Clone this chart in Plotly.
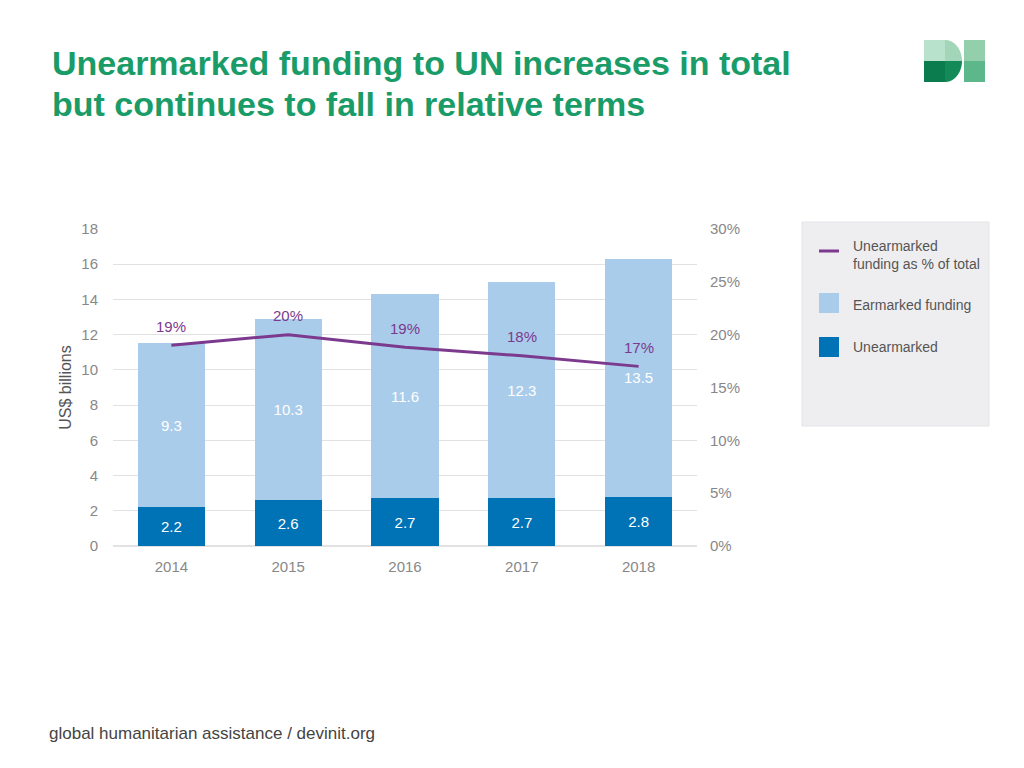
import math
import plotly.graph_objects as go

years = ["2014", "2015", "2016", "2017", "2018"]
unearmarked = [2.2, 2.6, 2.7, 2.7, 2.8]
earmarked = [9.3, 10.3, 11.6, 12.3, 13.5]
share_pct = [19.0, 20.0, 18.8, 18.0, 17.0]
share_labels = ["19%", "20%", "19%", "18%", "17%"]
left_ticks = [0, 2, 4, 6, 8, 10, 12, 14, 16, 18]
right_ticks = [0, 5, 10, 15, 20, 25, 30]

OFF = 8  # page body margin
W, H = 1024 - OFF, 768 - OFF
L, R, T, B = 113, 697, 229, 546  # plot area in screen pixels

def px(x):
    return (x - L) / (R - L)

def py(y):
    return (B - y) / (B - T)

LIGHT = "#A9CCEA"
DARK = "#0073B6"
PURPLE = "#7B3A8E"
GREEN = "#1A9C68"
FONT = "Liberation Sans, Arial, sans-serif"

fig = go.Figure()
fig.add_trace(go.Bar(
    x=years, y=unearmarked, marker_color=DARK, marker_line_width=0,
    text=[f"{v:.1f}" for v in unearmarked], textposition="inside",
    insidetextanchor="middle", textangle=0,
    textfont=dict(color="white", size=15, family=FONT), name="Unearmarked"))
fig.add_trace(go.Bar(
    x=years, y=earmarked, marker_color=LIGHT, marker_line_width=0,
    text=[f"{v:.1f}" for v in earmarked], textposition="inside",
    insidetextanchor="middle", textangle=0,
    textfont=dict(color="white", size=15, family=FONT), name="Earmarked funding"))
fig.add_trace(go.Scatter(
    x=years, y=share_pct, yaxis="y2", mode="lines",
    line=dict(color=PURPLE, width=3), name="Unearmarked funding as % of total"))

annotations = []
for i, (v, lab) in enumerate(zip(share_pct, share_labels)):
    annotations.append(dict(x=i, y=v, yref="y2", xref="x", text=lab,
                            showarrow=False, yshift=19,
                            font=dict(color=PURPLE, size=15, family=FONT)))

annotations.append(dict(x=px(50), y=py(63), xref="paper", yref="paper",
                        xanchor="left", yanchor="middle", showarrow=False,
                        text="<b>Unearmarked funding to UN increases in total</b>",
                        font=dict(color=GREEN, size=34, family=FONT)))
annotations.append(dict(x=px(50), y=py(104), xref="paper", yref="paper",
                        xanchor="left", yanchor="middle", showarrow=False,
                        text="<b>but continues to fall in relative terms</b>",
                        font=dict(color=GREEN, size=34, family=FONT)))
annotations.append(dict(x=px(47), y=py(733), xref="paper", yref="paper",
                        xanchor="left", yanchor="middle", showarrow=False,
                        text="global humanitarian assistance / devinit.org",
                        font=dict(color="#444444", size=17, family=FONT)))

leg_font = dict(color="#555555", size=14, family=FONT)
annotations.append(dict(x=px(851), y=py(255), xref="paper", yref="paper",
                        xanchor="left", yanchor="middle", showarrow=False, align="left",
                        text="Unearmarked<br>funding as % of total", font=leg_font))
annotations.append(dict(x=px(851), y=py(305), xref="paper", yref="paper",
                        xanchor="left", yanchor="middle", showarrow=False,
                        text="Earmarked funding", font=leg_font))
annotations.append(dict(x=px(851), y=py(347), xref="paper", yref="paper",
                        xanchor="left", yanchor="middle", showarrow=False,
                        text="Unearmarked", font=leg_font))

shapes = []
shapes.append(dict(type="rect", xref="paper", yref="paper", layer="below",
                   x0=px(802), x1=px(989), y0=py(222), y1=py(426),
                   fillcolor="#EEEEF0", line=dict(width=1, color="#E4E4E8")))
shapes.append(dict(type="line", xref="paper", yref="paper",
                   x0=px(819), x1=px(839), y0=py(251), y1=py(251),
                   line=dict(color=PURPLE, width=3)))
shapes.append(dict(type="rect", xref="paper", yref="paper",
                   x0=px(819), x1=px(839), y0=py(293), y1=py(313),
                   fillcolor=LIGHT, line=dict(width=0)))
shapes.append(dict(type="rect", xref="paper", yref="paper",
                   x0=px(819), x1=px(839), y0=py(337), y1=py(357),
                   fillcolor=DARK, line=dict(width=0)))

def rect(x0, y0, x1, y1, color):
    return dict(type="rect", xref="paper", yref="paper",
                x0=px(x0), x1=px(x1), y0=py(y1), y1=py(y0),
                fillcolor=color, line=dict(width=0))

def dpath(color, top):
    r = 17
    n = 20
    pts = []
    for i in range(n + 1):
        a = (math.pi / 2) * i / n
        if top:
            x = 945 + r * math.sin(a)
            y = 40 + 21 * (1 - math.cos(a))
        else:
            x = 945 + r * math.cos(a)
            y = 61 + 21 * math.sin(a)
        pts.append((x, y))
    if top:
        path = f"M {px(945)},{py(40)} " + " ".join(f"L {px(x)},{py(y)}" for x, y in pts) + f" L {px(945)},{py(61)} Z"
    else:
        path = f"M {px(945)},{py(61)} " + " ".join(f"L {px(x)},{py(y)}" for x, y in pts) + f" L {px(945)},{py(82)} Z"
    return dict(type="path", xref="paper", yref="paper", path=path,
                fillcolor=color, line=dict(width=0))

shapes.append(rect(924, 40, 945, 61, "#B9E2CC"))
shapes.append(rect(924, 61, 945, 82, "#0A7C4E"))
shapes.append(dpath("#A3D6B9", True))
shapes.append(dpath("#138A57", False))
shapes.append(rect(964, 40, 985, 61, "#93CFAB"))
shapes.append(rect(964, 61, 985, 82, "#5CB88A"))

fig.update_layout(
    width=W, height=H,
    barmode="stack", bargap=0.425,
    showlegend=False,
    plot_bgcolor="white", paper_bgcolor="white",
    margin=dict(l=L - OFF, r=1024 - R, t=T - OFF, b=768 - B, autoexpand=False),
    font=dict(family=FONT, color="#888888"),
    xaxis=dict(type="category", range=[-0.5, len(years) - 0.5],
               showgrid=False, showline=False, ticks="",
               tickfont=dict(size=15, color="#888888"), ticklabelstandoff=10),
    yaxis=dict(range=[0, 18], tickvals=left_ticks, showgrid=True,
               gridcolor="#E2E2E2", gridwidth=1, zeroline=True, zerolinecolor="#E2E2E2",
               tickfont=dict(size=15, color="#888888"), ticklabelstandoff=14,
               title=dict(text="US$ billions", font=dict(size=16, color="#555555"), standoff=5)),
    yaxis2=dict(range=[0, 30], tickvals=right_ticks,
                ticktext=[f"{v}%" for v in right_ticks], overlaying="y", side="right",
                showgrid=False, zeroline=False,
                tickfont=dict(size=15, color="#888888"), ticklabelstandoff=12),
    annotations=annotations,
    shapes=shapes,
    hovermode=False,
)

fig.write_html("out.html")
